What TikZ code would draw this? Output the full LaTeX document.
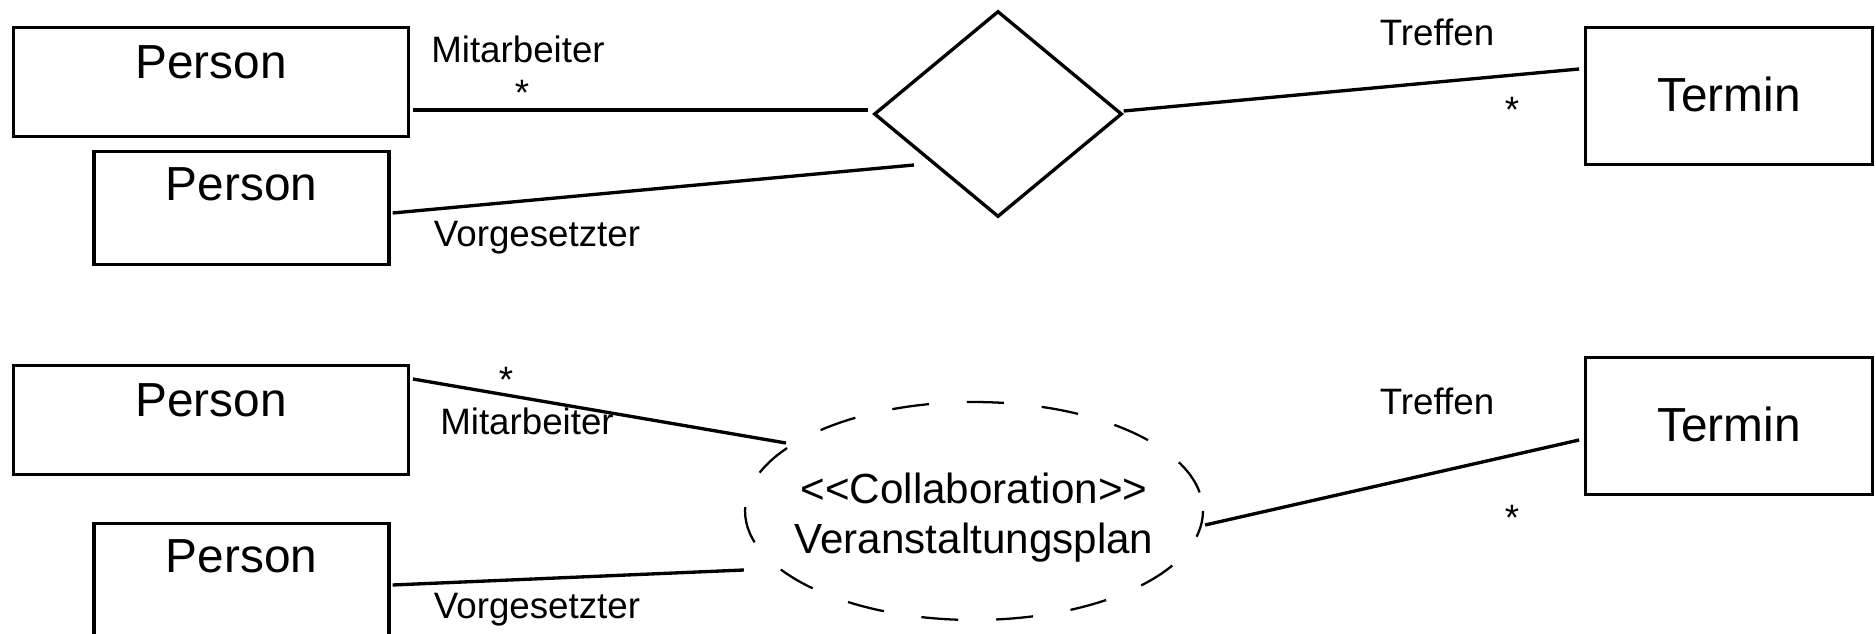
\documentclass[tikz,border=0pt]{standalone}
\usepackage{fontspec}
\setmainfont{Liberation Sans}
\usetikzlibrary{shapes.geometric,calc}
\begin{document}
\begin{tikzpicture}[x=0.02cm,y=-0.02cm,line width=1.9pt,
    klasse/.style={draw,rectangle,inner sep=0pt,font=\fontsize{27.2pt}{32pt}\selectfont},
    gross/.style={klasse,minimum width=7.89cm,text height=1.006cm,text depth=1.164cm},
    klein/.style={klasse,minimum width=5.9cm,text height=0.98cm,text depth=1.27cm},
    terminbox/.style={klasse,minimum width=5.73cm,text height=1.674cm,text depth=1.066cm},
    raute/.style={draw,diamond,inner sep=0pt,minimum width=4.96cm,minimum height=4.12cm},
    kollabell/.style={draw,ellipse,inner sep=0pt,line width=1.3pt,
      dash pattern=on 0.74cm off 0.76cm,dash phase=1.12cm,
      minimum width=9.16cm,minimum height=4.36cm},
    kollabtxt/.style={inner sep=0pt,align=center,font=\fontsize{24pt}{28.5pt}\selectfont},
    rolle/.style={inner sep=0pt,anchor=base,font=\fontsize{20.9pt}{25pt}\selectfont}]
  \useasboundingbox (0,0) rectangle (1876,634);
  \node[gross] (pers1) at (211,82) {Person};
  \node[klein] (pers2) at (241.5,208) {Person};
  \node[raute] (assoc) at (998,114) {};
  \node[terminbox] (termin1) at (1729,96) {Termin};
  \node[gross] (pers3) at (211,420) {Person};
  \node[klein] (pers4) at (241.5,580) {Person};
  \node[kollabell] (kollab) at (974,511) {};
  \node[kollabtxt] (kollabname) at (974,518) {<{}<Collaboration>{}>\\Veranstaltungsplan};
  \node[terminbox] (termin2) at (1729,426) {Termin};
  \node[rolle] (mit1) at (518,63) {Mitarbeiter};
  \node[rolle] (stern1) at (522,106) {*};
  \node[rolle] (vor1) at (537,247) {Vorgesetzter};
  \node[rolle] (tref1) at (1437,46) {Treffen};
  \node[rolle] (stern2) at (1512,123) {*};
  \node[rolle] (stern3) at (506,393) {*};
  \node[rolle] (mit2) at (527,435) {Mitarbeiter};
  \node[rolle] (vor2) at (537,618) {Vorgesetzter};
  \node[rolle] (tref2) at (1437,415) {Treffen};
  \node[rolle] (stern4) at (1512,531) {*};
  \begin{scope}[-]
    \draw ($(pers1.east)+(3,28)$) -- ($(assoc.west)+(-4,-4)$);
    \draw ($(pers2.east)+(2,5)$) -- ($(assoc.center)+(-84,51)$);
    \draw ($(assoc.east)+(0,-3)$) -- ($(termin1.west)+(-5,-27)$);
    \draw ($(pers3.east)+(3,-41)$) -- ($(kollab.west)+(42,-68)$);
    \draw ($(pers4.east)+(2,5)$) -- ($(kollab.west)+(0,59)$);
    \draw ($(kollab.east)+(1,14)$) -- ($(termin2.west)+(-5,14)$);
  \end{scope}
\end{tikzpicture}
\end{document}
